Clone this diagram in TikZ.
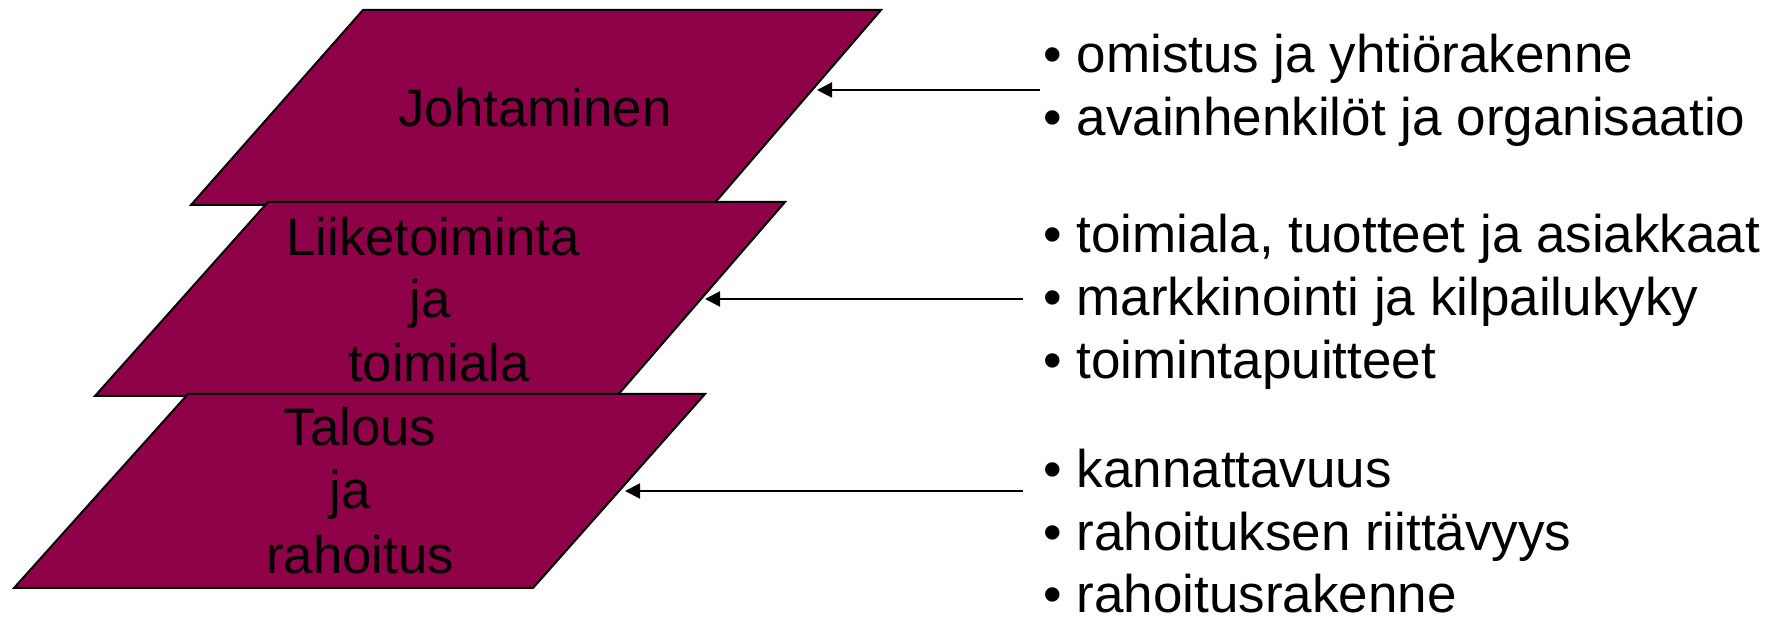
\documentclass[tikz,border=0pt]{standalone}
\usepackage{fontspec}
\setmainfont{Liberation Sans}
\usetikzlibrary{arrows.meta}
\definecolor{layerfill}{RGB}{142,0,72}
\tikzset{
  layer/.style={draw=black, line width=1pt, fill=layerfill, line join=miter},
  layertext/.style={inner sep=0pt, anchor=base, font=\fontsize{26.4}{31.5}\selectfont, text=black},
  itemtext/.style={inner sep=0pt, anchor=base west, font=\fontsize{26.5}{31.5}\selectfont, text=black},
  pointer/.style={draw=black, line width=1pt, -{Triangle[length=7.5pt,width=7.5pt]}}
}
\begin{document}
\begin{tikzpicture}[x=0.5pt, y=-0.5pt]
\useasboundingbox (0,0) rectangle (1783,619);
% layers
\draw[layer] (363,10) -- (881,10) -- (713,205) -- (191,205) -- cycle;
\draw[layer] (268,202) -- (785,202) -- (617,396) -- (95,396) -- cycle;
\draw[layer] (188,394) -- (705,394) -- (533,588) -- (14,588) -- cycle;
% layer labels
\node[layertext] (johto) at (535,127) {Johtaminen};
\node[layertext] (liike1) at (433,256) {Liiketoiminta};
\node[layertext] (liike2) at (430,318) {ja};
\node[layertext] (liike3) at (439,382) {toimiala};
\node[layertext] (talous1) at (360,446) {Talous};
\node[layertext] (talous2) at (350,509) {ja};
\node[layertext] (talous3) at (360,574) {rahoitus};
% bullet items
\node[itemtext] (a1) at (1043,73) {\textbullet\ omistus ja yhtiörakenne};
\node[itemtext] (a2) at (1043,136) {\textbullet\ avainhenkilöt ja organisaatio};
\node[itemtext] (b1) at (1043,253) {\textbullet\ toimiala, tuotteet ja asiakkaat};
\node[itemtext] (b2) at (1043,316) {\textbullet\ markkinointi ja kilpailukyky};
\node[itemtext] (b3) at (1043,379) {\textbullet\ toimintapuitteet};
\node[itemtext] (c1) at (1043,488) {\textbullet\ kannattavuus};
\node[itemtext] (c2) at (1043,551) {\textbullet\ rahoituksen riittävyys};
\node[itemtext] (c3) at (1043,613) {\textbullet\ rahoitusrakenne};
% connectors
\coordinate (s1) at (1040,90);
\coordinate (t1) at (817,90);
\coordinate (s2) at (1023,299);
\coordinate (t2) at (705,299);
\coordinate (s3) at (1023,491);
\coordinate (t3) at (625,491);
\draw[pointer] (s1) -- (t1);
\draw[pointer] (s2) -- (t2);
\draw[pointer] (s3) -- (t3);
\end{tikzpicture}
\end{document}
